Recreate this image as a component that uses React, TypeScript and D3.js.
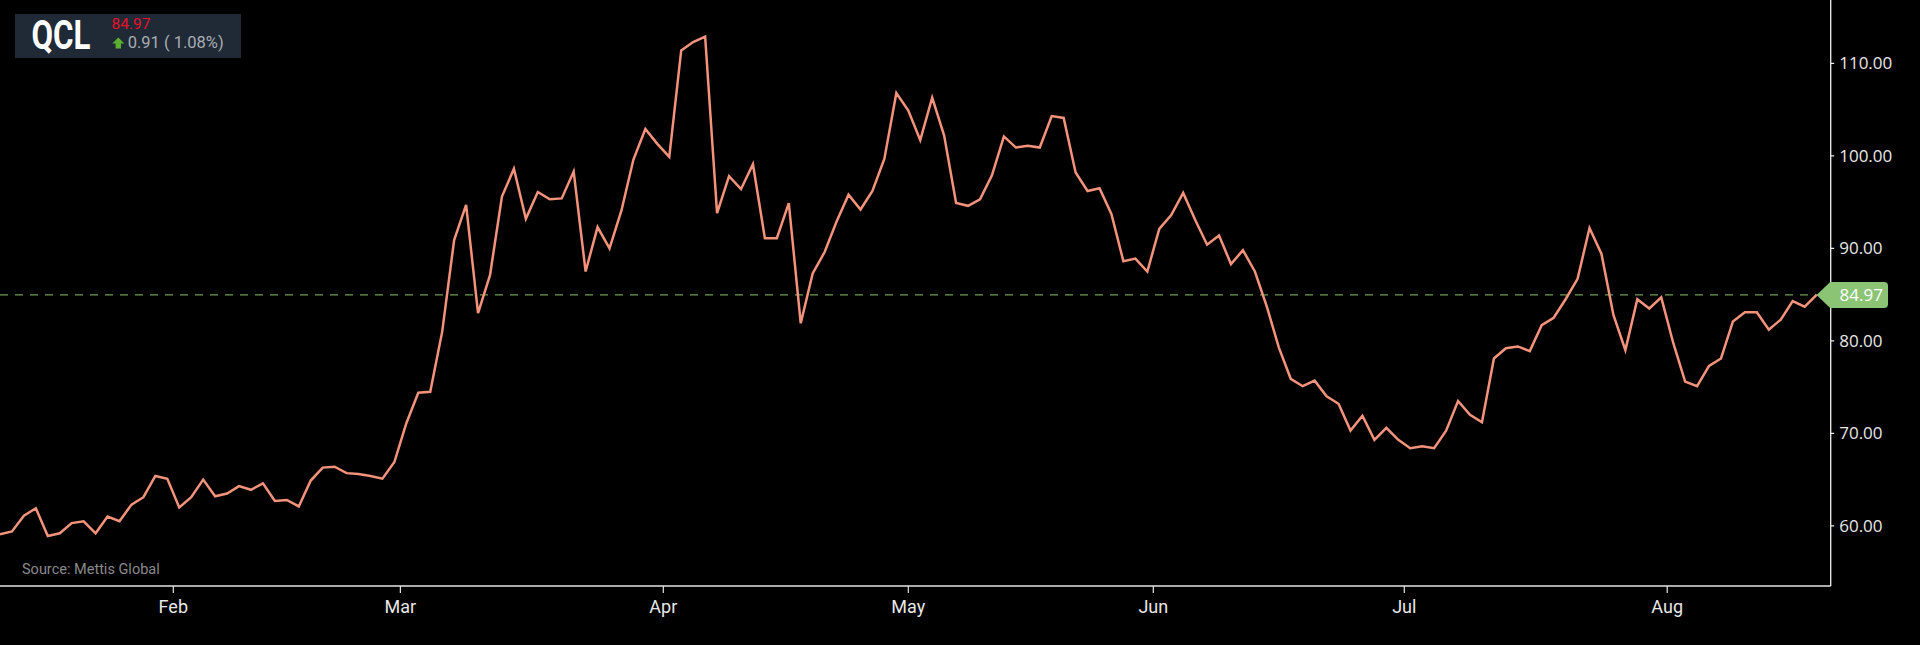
import React from "react";
import * as d3 from "d3";

const ticker = "QCL";
const lastPrice = 84.97;
const changeText = "0.91 ( 1.08%)";
const sourceText = "Source: Mettis Global";

const prices: number[] = [
  59.1, 59.4, 61.1, 61.9, 58.9, 59.2, 60.3, 60.5, 59.2, 61.0,
  60.5, 62.3, 63.1, 65.4, 65.1, 62.0, 63.1, 65.0, 63.2, 63.5,
  64.3, 63.9, 64.6, 62.7, 62.8, 62.1, 64.9, 66.3, 66.4, 65.7,
  65.6, 65.4, 65.1, 66.9, 71.1, 74.4, 74.5, 81.0, 90.9, 94.7,
  83.0, 87.1, 95.6, 98.6, 93.2, 96.1, 95.3, 95.4, 98.3, 87.5,
  92.3, 90.0, 94.1, 99.6, 102.9, 101.3, 99.9, 111.4, 112.3, 112.9,
  93.8, 97.8, 96.4, 99.1, 91.1, 91.1, 94.9, 81.9, 87.3, 89.6,
  92.9, 95.8, 94.2, 96.2, 99.7, 106.8, 104.9, 101.7, 106.3, 102.2,
  94.9, 94.6, 95.3, 97.9, 102.1, 100.9, 101.1, 100.9, 104.3, 104.1,
  98.2, 96.2, 96.5, 93.7, 88.6, 88.9, 87.5, 92.1, 93.6, 96.0,
  93.1, 90.4, 91.4, 88.3, 89.8, 87.5, 83.7, 79.3, 75.9, 75.1,
  75.7, 74.0, 73.2, 70.3, 71.9, 69.3, 70.6, 69.3, 68.4, 68.6,
  68.4, 70.3, 73.5, 72.0, 71.2, 78.1, 79.2, 79.4, 78.9, 81.7,
  82.5, 84.5, 86.7, 92.2, 89.4, 82.8, 79.0, 84.5, 83.5, 84.7,
  79.8, 75.6, 75.1, 77.3, 78.1, 82.1, 83.1, 83.1, 81.2, 82.3,
  84.3, 83.7, 84.97,
];

const monthLabels = ["Feb", "Mar", "Apr", "May", "Jun", "Jul", "Aug"];
const monthPositions = [14.5, 33.5, 55.5, 76, 96.5, 117.5, 139.5];
const yTicks = [60, 70, 80, 90, 100, 110];

const W = 1920;
const H = 645;
const axisX = 1830.7;
const axisY = 586;

export default function App() {
  const x = d3.scaleLinear().domain([0, prices.length - 1]).range([0, 1816.6]);
  const y = d3.scaleLinear().domain([53.5, 116.85]).range([axisY, 0]);
  const line = d3
    .line<number>()
    .x((_, i) => x(i))
    .y((d) => y(d));
  const fmt = d3.format(".2f");
  const py = y(lastPrice);

  return (
    <div style={{ position: "absolute", left: 0, top: 0, width: W, height: H, background: "#000" }}>
      <svg width={W} height={H} style={{ display: "block", background: "#000" }}>
        <defs>
          <clipPath id="plot">
            <rect x={0} y={0} width={axisX} height={axisY} />
          </clipPath>
        </defs>
        {/* last price dashed line */}
        <line x1={0} x2={axisX} y1={py} y2={py} stroke="#6e9c55" strokeWidth={1.3} strokeDasharray="8,7" />
        {/* price line */}
        <path
          d={line(prices) || ""}
          fill="none"
          stroke="#f4937b"
          strokeWidth={2.5}
          strokeLinejoin="miter"
          clipPath="url(#plot)"
        />
        {/* source */}
        <text x={22} y={574} fill="#8a8a8a" fontFamily="Roboto" fontSize={14.5}>
          {sourceText}
        </text>
        {/* axes */}
        <line x1={0} x2={axisX} y1={axisY} y2={axisY} stroke="#e6e6e6" strokeWidth={1.3} />
        <line x1={axisX} x2={axisX} y1={0} y2={axisY} stroke="#f2f2f2" strokeWidth={1.3} />
        {yTicks.map((t) => (
          <g key={t} transform={`translate(${axisX},${y(t)})`}>
            <line x1={0} x2={3.5} stroke="#f2f2f2" strokeWidth={1.2} />
            <text x={8.5} dy="0.35em" fill="#e8e8e8" fontFamily="'Open Sans'" fontSize={17}>
              {fmt(t)}
            </text>
          </g>
        ))}
        {monthLabels.map((m, i) => (
          <g key={m} transform={`translate(${x(monthPositions[i])},${axisY})`}>
            <line y1={0} y2={7} stroke="#e6e6e6" strokeWidth={1.2} />
            <text y={26.5} textAnchor="middle" fill="#e8e8e8" fontFamily="Roboto" fontSize={18}>
              {m}
            </text>
          </g>
        ))}
        {/* price marker */}
        <g transform={`translate(0,${py})`}>
          <path
            d={`M${x(prices.length - 1)},0 L${axisX - 0.5},-13 L1884,-13 Q1888,-13 1888,-9 L1888,9 Q1888,13 1884,13 L${axisX - 0.5},13 Z`}
            fill="#8cc475"
          />
          <text x={1839.5} dy="0.36em" fill="#ffffff" fontFamily="'Open Sans'" fontSize={17}>
            {fmt(lastPrice)}
          </text>
        </g>
        {/* ticker box */}
        <rect x={15} y={14} width={226} height={44} fill="#1f2a36" />
        <text
          x={31.5}
          y={49.3}
          fill="#ffffff"
          fontFamily="Roboto"
          fontWeight={700}
          fontSize={40}
          textLength={59}
          lengthAdjust="spacingAndGlyphs"
        >
          {ticker}
        </text>
        <text x={111.5} y={29.3} fill="#e8112d" fontFamily="Roboto" fontSize={15.5}>
          {fmt(lastPrice)}
        </text>
        <path d="M118.3,37.5 L124.3,43.5 L121,43.5 L121,48.5 L115.6,48.5 L115.6,43.5 L112.3,43.5 Z" fill="#5cb030" />
        <text x={127.7} y={48.3} fill="#a9adb2" fontFamily="Roboto" fontSize={16.5}>
          {changeText}
        </text>
      </svg>
    </div>
  );
}
